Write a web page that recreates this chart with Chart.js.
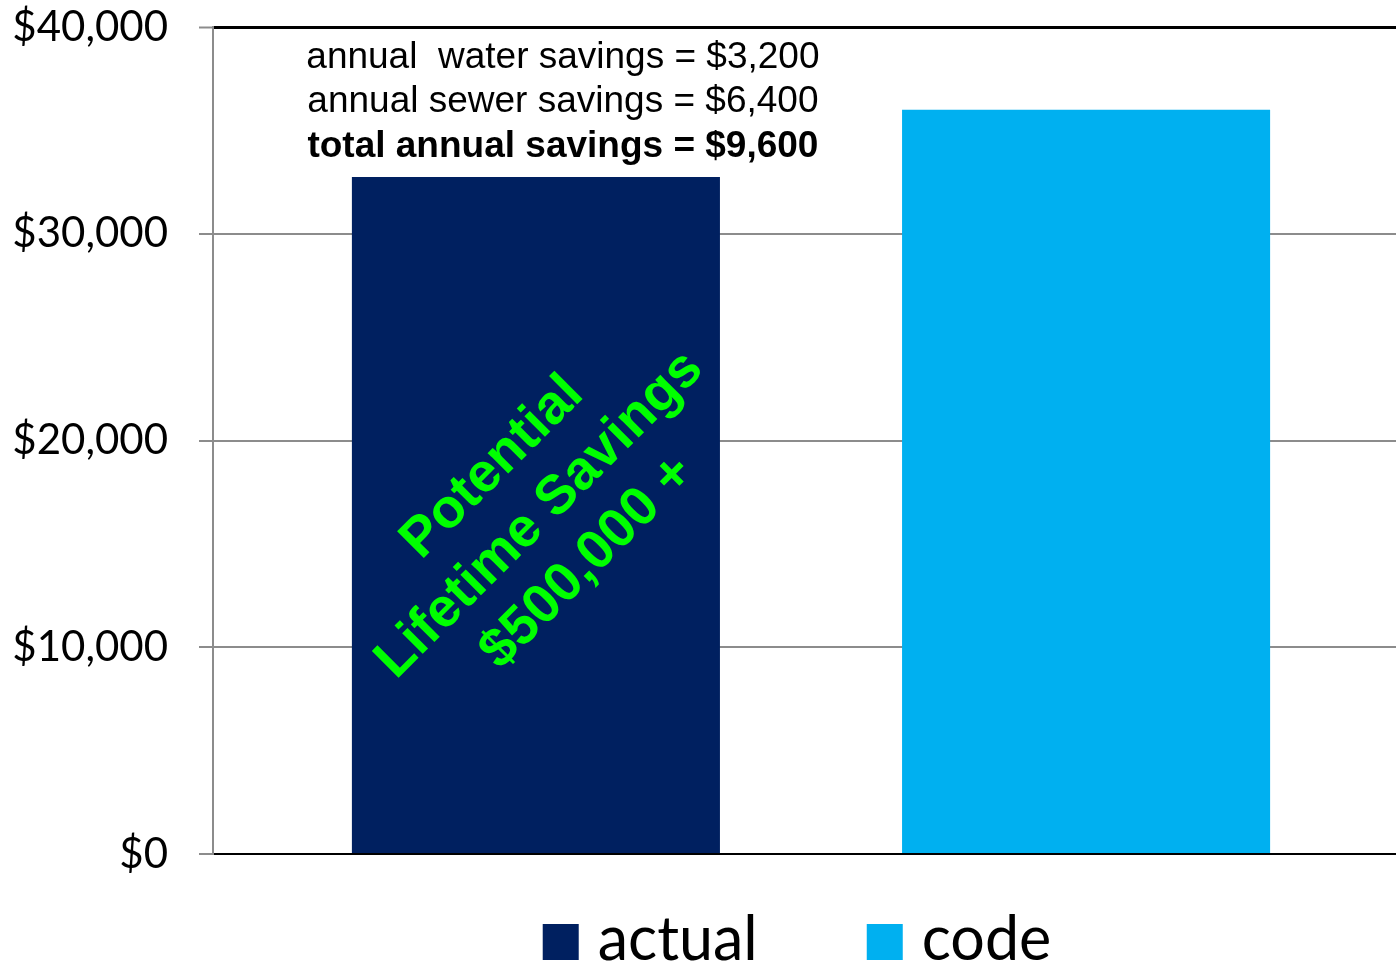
<!DOCTYPE html>
<html>
<head>
<meta charset="utf-8">
<script src="https://cdn.jsdelivr.net/npm/chart.js@4/dist/chart.umd.min.js"></script>
<style>
  html, body { margin: 0; padding: 0; background: #ffffff; overflow: hidden; }
  #wrap { position: absolute; left: 0; top: 0; width: 1396px; height: 967px; overflow: hidden; }
  canvas { display: block; }
</style>
</head>
<body>
<div id="wrap"><canvas id="c" width="1420" height="967"></canvas></div>
<script>
// ---- data ----
const categories = [''];
const seriesNames = ['actual', 'code'];
const actualValues = [32750];
const codeValues = [36000];
const yTickValues = [0, 10000, 20000, 30000, 40000];
const annotationLines = [
  'annual  water savings = $3,200',
  'annual sewer savings = $6,400',
  'total annual savings = $9,600'
];
const diagonalLines = ['Potential', 'Lifetime Savings', '$500,000 +'];

const colors = ['#002060', '#00B0F0'];

const annotationPlugin = {
  id: 'annotations',
  afterDatasetsDraw(chart) {
    const ctx = chart.ctx;
    const bar = chart.getDatasetMeta(0).data[0];
    if (!bar) return;
    // top annotation text
    ctx.save();
    ctx.fillStyle = '#000000';
    ctx.textAlign = 'center';
    ctx.textBaseline = 'middle';
    const cx = bar.x + 27;
    const offs = [-119, -75, -30];
    annotationLines.forEach((t, i) => {
      ctx.font = (i === 2 ? 'bold ' : '') + '37px "Liberation Sans", Arial, sans-serif';
      ctx.fillText(t, cx, bar.y + offs[i]);
    });
    ctx.restore();
    // diagonal text in bar
    ctx.save();
    const midY = (bar.y + bar.base) / 2;
    ctx.translate(bar.x + 4, midY);
    ctx.rotate(-Math.PI / 4);
    ctx.fillStyle = '#00FF00';
    ctx.font = 'bold 55px "Liberation Sans", Arial, sans-serif';
    ctx.textAlign = 'center';
    ctx.textBaseline = 'middle';
    diagonalLines.forEach((t, i) => {
      ctx.fillText(t, 0, (i - 1) * 67);
    });
    ctx.restore();
  },
  afterDraw(chart) {
    // legend from datasets
    const ctx = chart.ctx;
    const area = chart.chartArea;
    ctx.save();
    ctx.font = '61px Lato, "Open Sans", sans-serif';
    const box = 36, gapText = 19, gapItem = 109;
    const items = chart.data.datasets.map(d => ({ label: d.label, color: d.backgroundColor, w: ctx.measureText(d.label).width }));
    let total = 0;
    items.forEach((it, i) => { total += box + gapText + it.w + (i < items.length - 1 ? gapItem : 0); });
    let x = (area.left + area.right) / 2 - 14 - total / 2;
    const boxTop = area.bottom + 70;
    items.forEach(it => {
      ctx.fillStyle = it.color;
      ctx.fillRect(x, boxTop, box, box);
      ctx.fillStyle = '#000000';
      ctx.textAlign = 'left';
      ctx.textBaseline = 'alphabetic';
      ctx.fillText(it.label, x + box + gapText, boxTop + box);
      x += box + gapText + it.w + gapItem;
    });
    ctx.restore();
  }
};

new Chart(document.getElementById('c'), {
  type: 'bar',
  data: {
    labels: categories,
    datasets: [
      { label: seriesNames[0], data: actualValues, backgroundColor: colors[0], borderWidth: 0 },
      { label: seriesNames[1], data: codeValues, backgroundColor: colors[1], borderWidth: 0 }
    ]
  },
  options: {
    responsive: false,
    animation: false,
    devicePixelRatio: 1,
    categoryPercentage: 0.92,
    barPercentage: 0.669,
    layout: { padding: { top: 27, right: 11, bottom: 113, left: 0 } },
    plugins: {
      legend: { display: false },
      tooltip: { enabled: false }
    },
    scales: {
      x: {
        type: 'category',
        ticks: { display: false },
        grid: { display: false, drawTicks: false },
        border: { display: true, color: '#000000', width: 2 }
      },
      y: {
        min: 0,
        max: 40000,
        afterBuildTicks(axis) { axis.ticks = yTickValues.map(v => ({ value: v })); },
        afterFit(axis) { axis.width = 213; axis.paddingTop = 0; axis.paddingBottom = 0; },
        ticks: {
          padding: 31,
          color: '#000000',
          font: { family: 'Lato, "Open Sans", sans-serif', size: 42 },
          callback: (v) => '$' + Number(v).toLocaleString('en-US')
        },
        grid: {
          color: (c) => (c.tick && (c.tick.value === 40000 || c.tick.value === 0)) ? '#000000' : '#8C8C8C',
          lineWidth: (c) => (c.tick && c.tick.value === 40000) ? 3 : 2,
          tickColor: '#8C8C8C',
          tickWidth: 2,
          tickLength: 14,
          drawOnChartArea: true
        },
        border: { display: true, color: '#8C8C8C', width: 2 }
      }
    }
  },
  plugins: [annotationPlugin]
});
</script>
</body>
</html>
